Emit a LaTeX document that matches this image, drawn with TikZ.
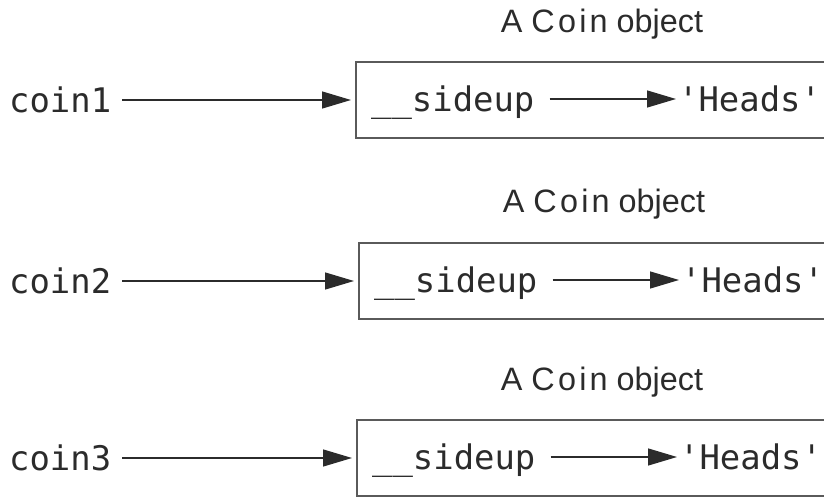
\documentclass[tikz,border=0pt]{standalone}
\usepackage{fontspec}
\setmainfont{Liberation Sans}
\newfontfamily\codefont{DejaVu Sans Mono}
\usetikzlibrary{arrows.meta}

\definecolor{Cink}{HTML}{2B2B2B}
\definecolor{Cframe}{HTML}{5A5A5A}

\begin{document}
\begin{tikzpicture}[x=1bp,y=-1bp,
	varname/.style={inner sep=0pt,text height=24.5bp,text depth=0pt,
		font=\codefont\fontsize{34}{34}\selectfont,text=Cink},
	objbox/.style={draw=Cframe,line width=1.6bp,minimum width=520bp,
		minimum height=76bp,inner sep=0pt},
	objlabel/.style={inner sep=0pt,font=\fontsize{32.5}{32.5}\selectfont,text=Cink},
	ptr/.style={draw=Cink,line width=1.4bp,-{Triangle[length=29bp,width=17bp]}}]
	\useasboundingbox (0,0) rectangle (824,497);
	\clip (0,0) rectangle (824,497);

	% first object
	\node[objlabel,anchor=base] (lab1) at (602,33) {A {\addfontfeature{LetterSpace=10}Coin} object};
	\node[objbox,anchor=west] (obj1) at (355,100) {};
	\node[varname,anchor=west] (coin1) at (9,100) {coin1};
	\node[varname,anchor=west] (side1) at (371,99) {\_\_sideup};
	\node[varname,anchor=west] (val1) at (678,99) {\textquotesingle Heads\textquotesingle};
	\draw[ptr,shorten <=11bp,shorten >=4bp] (coin1) -- (obj1);
	\draw[ptr,shorten <=15bp,shorten >=2bp] (side1) -- (val1);

	% second object
	\node[objlabel,anchor=base] (lab2) at (604,213) {A {\addfontfeature{LetterSpace=10}Coin} object};
	\node[objbox,anchor=west] (obj2) at (358,281) {};
	\node[varname,anchor=west] (coin2) at (9,281) {coin2};
	\node[varname,anchor=west] (side2) at (374,280) {\_\_sideup};
	\node[varname,anchor=west] (val2) at (681,280) {\textquotesingle Heads\textquotesingle};
	\draw[ptr,shorten <=11bp,shorten >=4bp] (coin2) -- (obj2);
	\draw[ptr,shorten <=15bp,shorten >=2bp] (side2) -- (val2);

	% third object
	\node[objlabel,anchor=base] (lab3) at (602,390) {A {\addfontfeature{LetterSpace=10}Coin} object};
	\node[objbox,anchor=west] (obj3) at (356,458) {};
	\node[varname,anchor=west] (coin3) at (9,458) {coin3};
	\node[varname,anchor=west] (side3) at (372,457) {\_\_sideup};
	\node[varname,anchor=west] (val3) at (679,457) {\textquotesingle Heads\textquotesingle};
	\draw[ptr,shorten <=11bp,shorten >=4bp] (coin3) -- (obj3);
	\draw[ptr,shorten <=15bp,shorten >=2bp] (side3) -- (val3);
\end{tikzpicture}
\end{document}
